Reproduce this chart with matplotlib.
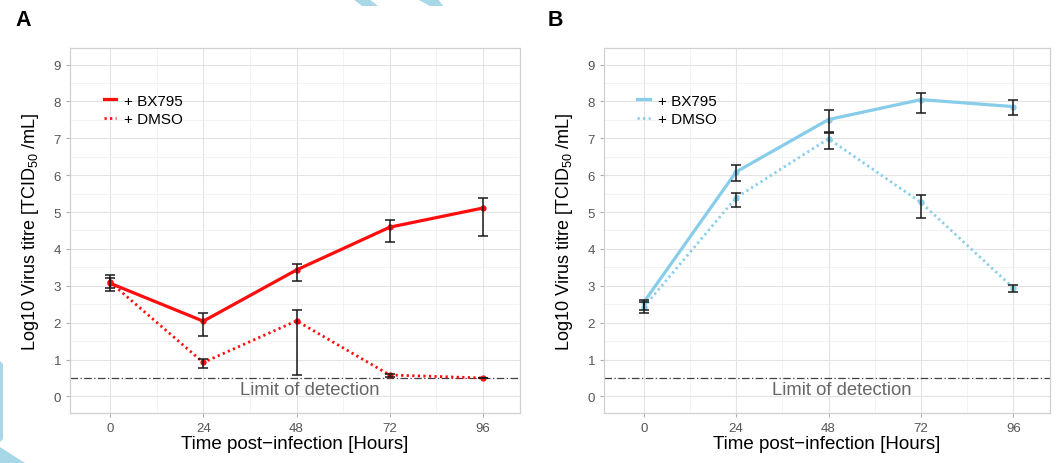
import numpy as np
import matplotlib
matplotlib.use("Agg")
import matplotlib.pyplot as plt
from matplotlib.patches import Polygon

plt.rcParams["font.family"] = ["Liberation Sans", "DejaVu Sans"]
plt.rcParams["mathtext.fontset"] = "custom"
plt.rcParams["mathtext.rm"] = "Liberation Sans"
plt.rcParams["mathtext.it"] = "Liberation Sans"

hours = [0, 24, 48, 72, 96]

# panel A (red)
a_bx = [3.07, 2.04, 3.43, 4.59, 5.11]
a_bx_lo = [2.87, 1.65, 3.14, 4.20, 4.34]
a_bx_hi = [3.28, 2.25, 3.59, 4.79, 5.38]
a_dm = [3.10, 0.92, 2.05, 0.58, 0.50]
a_dm_lo = [2.95, 0.78, 0.58, 0.52, 0.50]
a_dm_hi = [3.22, 1.01, 2.35, 0.62, 0.50]

# panel B (blue)
b_bx = [2.55, 6.09, 7.51, 8.05, 7.86]
b_bx_lo = [2.35, 5.83, 7.17, 7.69, 7.62]
b_bx_hi = [2.62, 6.28, 7.76, 8.23, 8.03]
b_dm = [2.42, 5.39, 6.99, 5.26, 2.94]
b_dm_lo = [2.25, 5.15, 6.70, 4.84, 2.83]
b_dm_hi = [2.55, 5.53, 7.14, 5.46, 3.03]

labels = ["+ BX795", "+ DMSO"]
limit_of_detection = 0.5


def draw_panel(ax, color, bx, bx_lo, bx_hi, dm, dm_lo, dm_hi):
    ax.set_xlim(-10.3, 105.5)
    ax.set_ylim(-0.45, 9.45)
    ax.set_xticks(hours)
    ax.set_yticks(range(10))
    ax.set_xticks([12, 36, 60, 84], minor=True)
    ax.set_yticks(np.arange(0.5, 9.5, 1), minor=True)
    ax.grid(which="major", color="#e3e3e3", lw=0.8)
    ax.grid(which="minor", color="#efefef", lw=0.5)
    ax.set_axisbelow(True)
    for s in ax.spines.values():
        s.set_color("#d0d0d0")
        s.set_linewidth(0.9)
    ax.tick_params(which="major", length=3, color="#b0b0b0", labelcolor="#555555",
                   labelsize=9.5)
    ax.tick_params(which="minor", length=0)

    ax.axhline(limit_of_detection, color="#404040", lw=0.9, ls=(0, (6, 2, 1, 2)))
    ax.text(51.5, 0.2, "Limit of detection", color="#666666", fontsize=13.3,
            ha="center", va="center")

    ax.plot(hours, bx, color=color, lw=2.3, ls="-", label=labels[0])
    ax.plot(hours, dm, color=color, lw=2.0, ls=(0, (0.8, 1.2)), label=labels[1])
    ax.plot(hours, bx, "o", color=color, ms=3.5)
    ax.plot(hours, dm, "o", color=color, ms=3.5)

    for y, lo, hi in [(bx, bx_lo, bx_hi), (dm, dm_lo, dm_hi)]:
        y = np.array(y)
        err = [y - np.array(lo), np.array(hi) - y]
        ax.errorbar(hours, y, yerr=err, fmt="none", ecolor="#1a1a1a",
                    elinewidth=1.1, capsize=3.5, capthick=1.1)

    ax.legend(loc="upper left", bbox_to_anchor=(0.075, 0.875), frameon=False,
              fontsize=11, handlelength=0.8, handletextpad=0.55,
              labelspacing=0.3, borderpad=0, borderaxespad=0)
    ax.set_xlabel("Time post\u2212infection [Hours]", fontsize=13.5, labelpad=1)
    ax.set_ylabel("Log10 Virus titre [TCID$_{50}$ /mL]", fontsize=13, labelpad=9)


fig = plt.figure(figsize=(10.64, 4.64), dpi=100)
ax1 = fig.add_axes([0.0658, 0.1078, 0.4229, 0.7866])
ax2 = fig.add_axes([0.5677, 0.1078, 0.4191, 0.7866])

draw_panel(ax1, "#ff0d0d", a_bx, a_bx_lo, a_bx_hi, a_dm, a_dm_lo, a_dm_hi)
draw_panel(ax2, "#87cdea", b_bx, b_bx_lo, b_bx_hi, b_dm, b_dm_lo, b_dm_hi)

fig.text(0.015, 0.956, "A", fontsize=15.5, fontweight="bold", va="center")
fig.text(0.515, 0.956, "B", fontsize=15.5, fontweight="bold", va="center")

# light blue corner marks present in the source image
deco = "#a8d8e8"
for pts in [[(353, 0), (362, 7), (378, 7), (369, 0)],
            [(417, 0), (430, 7), (443, 7), (438, 0)],
            [(0, 362), (3, 365), (3, 440), (0, 443)],
            [(0, 448), (25, 464), (0, 464)]]:
    fig.patches.append(Polygon([(x / 1064, 1 - y / 464) for x, y in pts],
                               closed=True, transform=fig.transFigure,
                               color=deco, lw=0))

fig.savefig("out.png", dpi=100)
